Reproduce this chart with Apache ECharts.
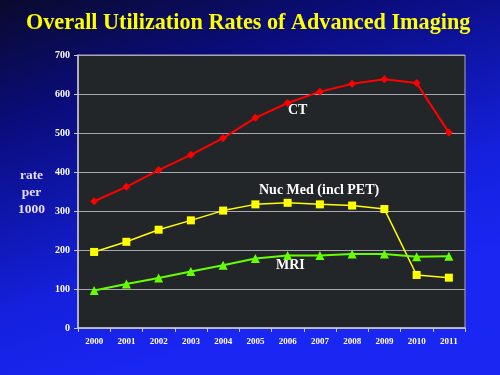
<!DOCTYPE html>
<html><head><meta charset="utf-8">
<script src="https://cdn.jsdelivr.net/npm/echarts@6/dist/echarts.min.js"></script>
<style>html,body{margin:0;padding:0;}#c{width:500px;height:375px;}</style>
</head><body><div id="c"></div>
<script>
const years = ['2000','2001','2002','2003','2004','2005','2006','2007','2008','2009','2010','2011'];
const ct = [325, 362, 405, 444, 487, 539, 577, 606, 626, 638, 628, 501];
const nucMed = [195, 221, 252, 276, 301, 317, 321, 317, 314, 305, 136, 129];
const mri = [96, 113, 128, 145, 161, 178, 186, 186, 190, 190, 183, 184];
const yTicks = [0, 100, 200, 300, 400, 500, 600, 700];

const chart = echarts.init(document.getElementById('c'));
const serif = '"Liberation Serif", "DejaVu Serif", serif';
chart.setOption({
  animation: false,
  backgroundColor: {type:'linear', x:0, y:0, x2:0.25, y2:1, colorStops:[
    {offset:0, color:'#0a0a2c'}, {offset:0.3, color:'#0a0c7a'}, {offset:0.75, color:'#1420dc'}, {offset:1, color:'#1a26f2'}]},
  title: {text:'Overall Utilization Rates of Advanced Imaging', left:21, top:7,
    textStyle:{color:'#ffff00', fontFamily:serif, fontWeight:'bold', fontSize:22.2}},
  grid: {left:78, right:35, top:55, bottom:47, show:true, backgroundColor:'#222628', borderColor:'#a8a8b0', borderWidth:1},
  xAxis: {type:'category', data:years, boundaryGap:true,
    axisLine:{lineStyle:{color:'#c8c8d8', width:1.5}},
    axisTick:{show:true, length:4, lineStyle:{color:'#c8c8d8'}},
    axisLabel:{color:'#ffffff', fontFamily:serif, fontWeight:'bold', fontSize:9, margin:9}},
  yAxis: {type:'value', min:yTicks[0], max:yTicks[yTicks.length-1], interval:100,
    axisLine:{show:true, lineStyle:{color:'#c8c8d8', width:1.5}},
    axisTick:{show:true, length:4, lineStyle:{color:'#c8c8d8'}},
    splitLine:{lineStyle:{color:'#a8a8b0', width:1}},
    axisLabel:{color:'#ffffff', fontFamily:serif, fontWeight:'bold', fontSize:10, margin:8}},
  graphic: [
    {type:'text', left:18, top:167, style:{text:'rate\nper\n1000', fill:'#e6dcff', font:'bold 13.5px ' + serif, textAlign:'center', lineHeight:17}},
    {type:'text', left:288, top:103, style:{text:'CT', fill:'#ffffff', font:'bold 14px ' + serif}},
    {type:'text', left:259, top:183, style:{text:'Nuc Med (incl PET)', fill:'#ffffff', font:'bold 14px ' + serif}},
    {type:'text', left:276, top:258, style:{text:'MRI', fill:'#ffffff', font:'bold 14px ' + serif}}
  ],
  series: [
    {name:'CT', type:'line', data:ct, symbol:'diamond', symbolSize:8, lineStyle:{color:'#ff0000', width:2}, itemStyle:{color:'#ff0000'}},
    {name:'Nuc Med (incl PET)', type:'line', data:nucMed, symbol:'rect', symbolSize:8, lineStyle:{color:'#ffff00', width:1.5}, itemStyle:{color:'#ffff00'}},
    {name:'MRI', type:'line', data:mri, symbol:'triangle', symbolSize:9, lineStyle:{color:'#66ff00', width:2}, itemStyle:{color:'#66ff00'}}
  ]
});
</script></body></html>
